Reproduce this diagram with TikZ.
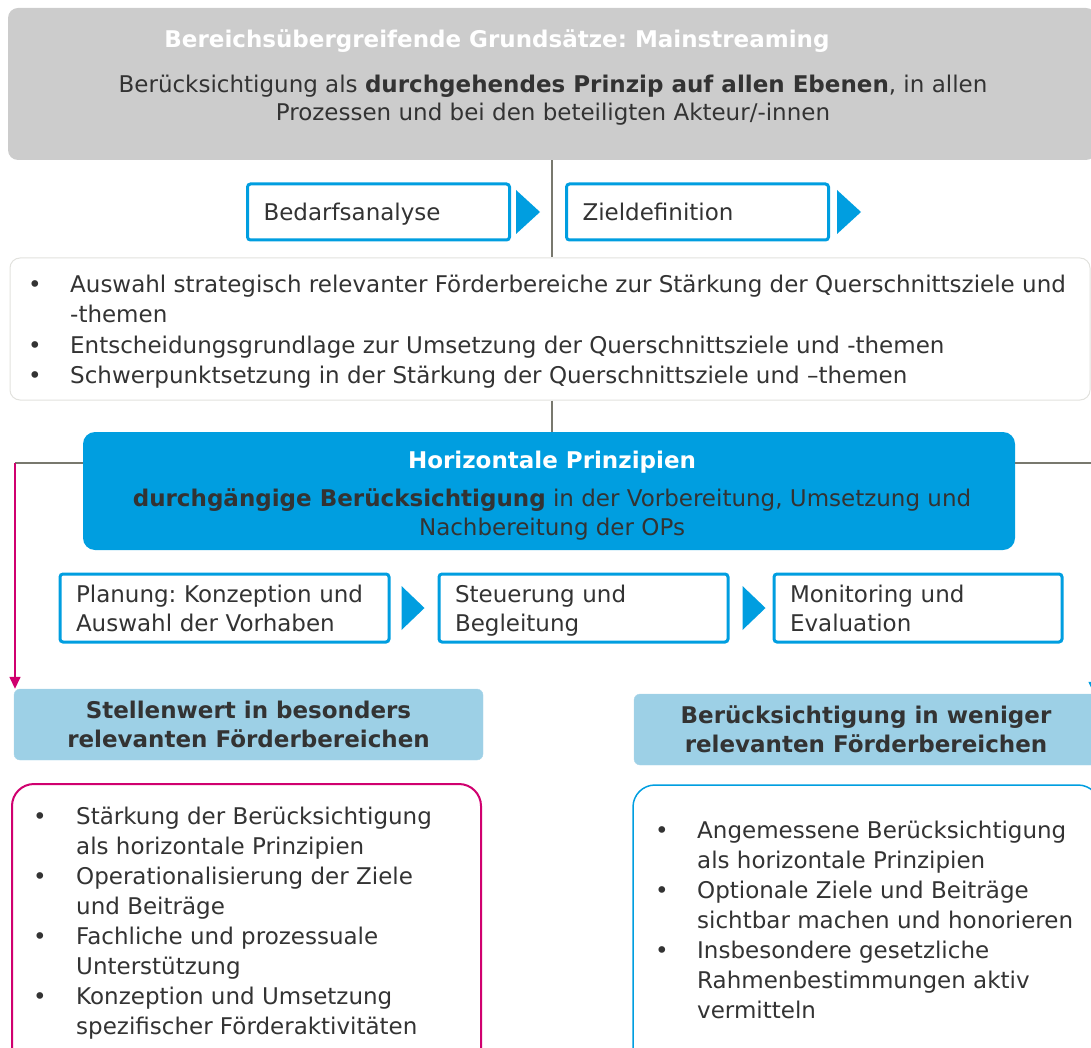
\documentclass[tikz,border=0pt]{standalone}
\usepackage{fontspec}
\setmainfont{DejaVu Sans}
\usepackage{xcolor}
\usetikzlibrary{arrows.meta, positioning}
\definecolor{hpblue}{RGB}{0,158,224}
\definecolor{headblue}{RGB}{157,208,230}
\definecolor{accentpink}{RGB}{208,0,111}
\definecolor{panelgray}{RGB}{204,204,204}
\definecolor{framegray}{RGB}{226,226,222}
\definecolor{linegray}{RGB}{120,120,110}
\definecolor{textdark}{RGB}{51,51,51}

\newcommand{\bodyfont}{\fontsize{23}{30}\selectfont}
% same height for every line in the step boxes
\newcommand{\stepstrut}{\rule[-6pt]{0pt}{29pt}}
\frenchspacing

\begin{document}
\begin{tikzpicture}[
    x=1pt, y=-1pt,
    every node/.style={text=textdark, inner sep=0pt},
    stepbox/.style={draw=hpblue, line width=3pt, fill=white, rounded corners=3pt,
                    inner xsep=16pt, align=left, font=\fontsize{23}{29}\selectfont},
    headbox/.style={fill=headblue, draw=headblue!85!white, rounded corners=6pt,
                    minimum height=71, align=center, font=\bfseries\fontsize{23}{29}\selectfont},
    tri/.style={fill=hpblue},
    link/.style={draw=linegray, line width=1.2pt},
    pinkarrow/.style={draw=accentpink, line width=1.5pt, -{Triangle[width=11pt,length=12pt]}},
    bluearrow/.style={draw=hpblue, line width=1.5pt, -{Triangle[width=11pt,length=12pt]}}
]
\useasboundingbox (0,0) rectangle (1091,1048);

% Mainstreaming
\node[fill=panelgray, rounded corners=10pt, minimum width=1088, minimum height=152] (mainstream) at (552,84) {};
\node[anchor=base, text=white, font=\bfseries\fontsize{23}{28}\selectfont] (msTitle) at (497,48)
    {Bereichsübergreifende Grundsätze: Mainstreaming};
\node[anchor=base, font=\fontsize{23}{28}\selectfont] (msText) at (553,93)
    {\begin{tabular}[t]{@{}c@{}}Berücksichtigung als \textbf{durchgehendes Prinzip auf allen Ebenen}, in allen\\
     Prozessen und bei den beteiligten Akteur/-innen\end{tabular}};

% Bedarfsanalyse -> Zieldefinition
\node[stepbox, minimum height=56, text width=230] (analyse) at (378.5,212) {\stepstrut Bedarfsanalyse};
\node[stepbox, minimum height=56, text width=230, right=54pt of analyse] (ziel) {\stepstrut Zieldefinition};
\fill[tri] ([xshift=5pt]analyse.east) -- ++(0,-22) -- ++(24,22) -- ++(-24,22) -- cycle;
\fill[tri] ([xshift=7pt]ziel.east) -- ++(0,-22) -- ++(24,22) -- ++(-24,22) -- cycle;

% Querschnittsziele
\node[fill=white, draw=framegray, line width=1pt, rounded corners=10pt,
      minimum width=1080, minimum height=142] (querlist) at (550,329) {};
\node[anchor=base west, font=\bodyfont] (querpoints) at (28,293)
    {\begin{tabular}[t]{@{}p{42pt}@{}l@{}}
     \textbullet & Auswahl strategisch relevanter Förderbereiche zur Stärkung der Querschnittsziele und\\
                 & -themen\\
     \textbullet & Entscheidungsgrundlage zur Umsetzung der Querschnittsziele und -themen\\
     \textbullet & Schwerpunktsetzung in der Stärkung der Querschnittsziele und –themen
     \end{tabular}};

% Horizontale Prinzipien
\node[fill=hpblue, rounded corners=12pt, minimum width=932, minimum height=118] (hp) at (549,491) {};
\node[anchor=base, font=\fontsize{23}{29}\selectfont] (hpText) at (552,468)
    {\begin{tabular}[t]{@{}c@{}}\textcolor{white}{\bfseries Horizontale Prinzipien}\\[9pt]
     \textbf{durchgängige Berücksichtigung} in der Vorbereitung, Umsetzung und\\
     Nachbereitung der OPs\end{tabular}};

% Planung -> Steuerung -> Monitoring
\node[stepbox, minimum height=68, text width=297] (planung) at (224.5,608)
    {\stepstrut Planung: Konzeption und\\\stepstrut Auswahl der Vorhaben};
\node[stepbox, minimum height=68, text width=257, right=47pt of planung] (steuerung)
    {\stepstrut Steuerung und\\\stepstrut Begleitung};
\node[stepbox, minimum height=68, text width=256, right=43pt of steuerung] (monitoring)
    {\stepstrut Monitoring und\\\stepstrut Evaluation};
\fill[tri] ([xshift=11pt]planung.east) -- ++(0,-22) -- ++(23,22) -- ++(-23,22) -- cycle;
\fill[tri] ([xshift=13pt]steuerung.east) -- ++(0,-22) -- ++(23,22) -- ++(-23,22) -- cycle;

% Foerderbereiche
\node[headbox, minimum width=469] (relhead) at (248.5,724.5)
    {Stellenwert in besonders\\relevanten Förderbereichen};
\node[headbox, minimum width=464] (lesshead) at (866,729.5)
    {Berücksichtigung in weniger\\relevanten Förderbereichen};

\node[draw=accentpink, line width=2pt, rounded corners=22pt,
      minimum width=469, minimum height=291] (relbox) at (246.5,929.5) {};
\node[anchor=base west, font=\bodyfont] (relpoints) at (33,824)
    {\begin{tabular}[t]{@{}p{43pt}@{}l@{}}
     \textbullet & Stärkung der Berücksichtigung\\
                 & als horizontale Prinzipien\\
     \textbullet & Operationalisierung der Ziele\\
                 & und Beiträge\\
     \textbullet & Fachliche und prozessuale\\
                 & Unterstützung\\
     \textbullet & Konzeption und Umsetzung\\
                 & spezifischer Förderaktivitäten
     \end{tabular}};

\node[draw=hpblue, line width=1.5pt, rounded corners=22pt,
      minimum width=467, minimum height=290] (lessbox) at (866.5,930) {};
\node[anchor=base west, font=\bodyfont] (lesspoints) at (655,838)
    {\begin{tabular}[t]{@{}p{42pt}@{}l@{}}
     \textbullet & Angemessene Berücksichtigung\\
                 & als horizontale Prinzipien\\
     \textbullet & Optionale Ziele und Beiträge\\
                 & sichtbar machen und honorieren\\
     \textbullet & Insbesondere gesetzliche\\
                 & Rahmenbestimmungen aktiv\\
                 & vermitteln
     \end{tabular}};

% Connections
\coordinate (lbend) at (15,463);
\coordinate (rbend) at (1094,463);
\draw[link] (mainstream.south) -- (mainstream.south |- querlist.north);
\draw[link] (mainstream.south |- querlist.south) -- (mainstream.south |- hp.north);
\draw[link] (lbend -| hp.west) -- (lbend);
\draw[link] (lbend -| hp.east) -- (rbend);
\draw[pinkarrow] (lbend) -- (lbend |- relhead.north);
\draw[bluearrow] (rbend) -- (rbend |- lesshead.north);

\end{tikzpicture}
\end{document}
